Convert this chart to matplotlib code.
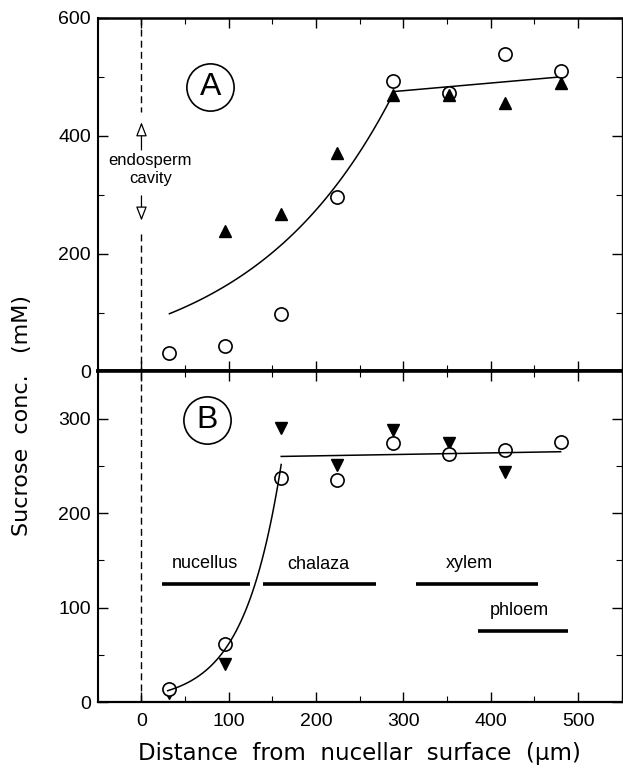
import numpy as np
import matplotlib
matplotlib.use('Agg')
import matplotlib.pyplot as plt
from matplotlib.ticker import MultipleLocator

plt.rcParams['font.family'] = ['Liberation Sans', 'DejaVu Sans']

# panel A data (distance in um, sucrose in mM)
a_x_circ = [32, 96, 160, 224, 288, 352, 416, 480]
a_y_circ = [31, 43, 98, 296, 493, 473, 539, 510]
a_x_tri = [96, 160, 224, 288, 352, 416, 480]
a_y_tri = [239, 267, 371, 469, 469, 456, 489]

# panel B data
b_x_circ = [32, 96, 160, 224, 288, 352, 416, 480]
b_y_circ = [14, 61, 237, 235, 274, 263, 267, 275]
b_x_tri = [32, 96, 160, 224, 288, 352, 416]
b_y_tri = [10, 40, 290, 251, 288, 274, 244]

# fitted curves: exponential part then straight line
fitA_exp = dict(a=80.5, k=0.00613, x0=32, x1=288)
fitA_lin = dict(x=[288, 480], y=[475, 500])
fitB_exp = dict(a=5.95, k=0.0234, x0=30, x1=160)
fitB_lin = dict(x=[160, 480], y=[260, 265])

# tissue regions in panel B
regions = ['nucellus', 'chalaza', 'xylem', 'phloem']
reg_start = [23, 139, 314, 385]
reg_end = [124, 268, 454, 488]
reg_y = [125, 125, 125, 75]
reg_label_x = [73, 202, 376, 433]
reg_label_y = [147, 146, 147, 97]

fig = plt.figure(figsize=(6.23, 7.69), dpi=100)
axA = fig.add_axes([0.157, 0.517, 0.841, 0.4596])
axB = fig.add_axes([0.157, 0.0871, 0.841, 0.4299])

ms_c = 9.5
ms_t = 8.5
head = '-|>,head_length=0.85,head_width=0.33'

# ---- panel A
axA.plot(a_x_circ, a_y_circ, 'o', mfc='white', mec='black', ms=ms_c, mew=1.2, zorder=3)
axA.plot(a_x_tri, a_y_tri, '^', color='black', ms=ms_t, zorder=4)
xx = np.linspace(fitA_exp['x0'], fitA_exp['x1'], 100)
axA.plot(xx, fitA_exp['a'] * np.exp(fitA_exp['k'] * xx), color='black', lw=1.1)
axA.plot(fitA_lin['x'], fitA_lin['y'], color='black', lw=1.1)

# endosperm cavity marker
axA.plot([0, 0], [600, 441], color='black', lw=1, ls=(0, (5, 3)))
axA.plot([0, 0], [233, 0], color='black', lw=1, ls=(0, (5, 3)))
axA.annotate('', xy=(0, 423), xytext=(0, 376),
             arrowprops=dict(arrowstyle=head, fc='white', ec='black', lw=0.9,
                             mutation_scale=10, shrinkA=0, shrinkB=0))
axA.annotate('', xy=(0, 256), xytext=(0, 298),
             arrowprops=dict(arrowstyle=head, fc='white', ec='black', lw=0.9,
                             mutation_scale=10, shrinkA=0, shrinkB=0))
axA.text(10, 342, 'endosperm\ncavity', ha='center', va='center', fontsize=12,
         linespacing=1.25)

axA.plot([79], [483], 'o', mfc='none', mec='black', ms=34, mew=1.2)
axA.text(79, 483, 'A', ha='center', va='center', fontsize=23)

axA.set_xlim(-50, 550)
axA.set_ylim(0, 600)
axA.yaxis.set_major_locator(MultipleLocator(200))
axA.yaxis.set_minor_locator(MultipleLocator(100))
axA.xaxis.set_major_locator(MultipleLocator(100))
axA.xaxis.set_minor_locator(MultipleLocator(50))
axA.tick_params(labelbottom=False)

# ---- panel B
axB.plot(b_x_tri, b_y_tri, 'v', color='black', ms=ms_t, zorder=3)
axB.plot(b_x_circ, b_y_circ, 'o', mfc='white', mec='black', ms=ms_c, mew=1.2, zorder=4)
xx = np.linspace(fitB_exp['x0'], fitB_exp['x1'], 100)
axB.plot(xx, fitB_exp['a'] * np.exp(fitB_exp['k'] * xx), color='black', lw=1.1, zorder=5)
axB.plot(fitB_lin['x'], fitB_lin['y'], color='black', lw=1.1, zorder=5)
axB.plot([0, 0], [0, 350], color='black', lw=1, ls=(0, (5, 3)))

for name, x0, x1, y, lx, ly in zip(regions, reg_start, reg_end, reg_y, reg_label_x, reg_label_y):
    axB.plot([x0, x1], [y, y], color='black', lw=2.6, solid_capstyle='butt')
    axB.text(lx, ly, name, ha='center', va='center', fontsize=13)

axB.plot([75], [299], 'o', mfc='none', mec='black', ms=34, mew=1.2)
axB.text(75, 299, 'B', ha='center', va='center', fontsize=23)

axB.set_xlim(-50, 550)
axB.set_ylim(0, 350)
axB.yaxis.set_minor_locator(MultipleLocator(50))
axB.set_yticks([0, 100, 200, 300])
axB.xaxis.set_major_locator(MultipleLocator(100))
axB.xaxis.set_minor_locator(MultipleLocator(50))

for ax in (axA, axB):
    ax.tick_params(which='both', direction='in', top=True, right=True, labelsize=14)
    ax.tick_params(which='major', length=7, width=1)
    ax.tick_params(which='minor', length=4, width=0.8)
    ax.tick_params(axis='x', pad=8)
    ax.tick_params(axis='y', pad=5)
    ax.spines['left'].set_linewidth(1.5)
    ax.spines['right'].set_linewidth(1.0)
    ax.spines['top'].set_linewidth(1.2)
    ax.spines['bottom'].set_linewidth(1.6)
axA.spines['bottom'].set_linewidth(2.6)
axB.spines['top'].set_linewidth(2.6)
axA.spines['top'].set_linewidth(1.8)

fig.text(0.035, 0.46, 'Sucrose  conc.   (mM)', rotation=90, ha='center', va='center',
         fontsize=16, family='DejaVu Sans')
fig.text(0.577, 0.02, 'Distance  from  nucellar  surface  (\u00b5m)', ha='center', va='center',
         fontsize=16.5, family='DejaVu Sans')

fig.savefig('out.png', dpi=100)
